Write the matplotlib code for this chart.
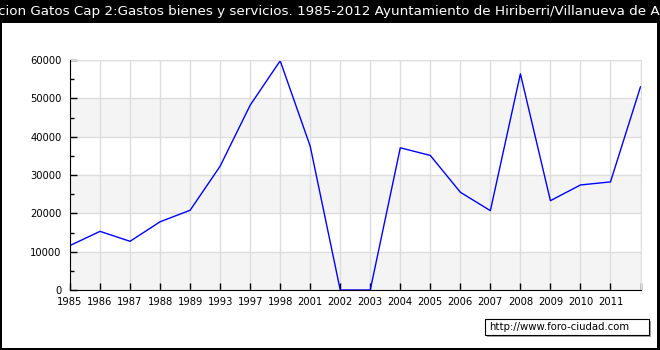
import numpy as np
import matplotlib.pyplot as plt
from matplotlib.patches import Rectangle
from matplotlib.ticker import MultipleLocator

# data
years = ['1985', '1986', '1987', '1988', '1989', '1993', '1997', '1998', '2001', '2002',
         '2003', '2004', '2005', '2006', '2007', '2008', '2009', '2010', '2011', '2012']
gastos = [11600, 15300, 12700, 17800, 20800, 32300, 48200, 59800, 37500, 0,
          0, 37100, 35100, 25500, 20700, 56400, 23300, 27400, 28200, 53000]
tick_labels = years[:-1]   # last point has no label
title = ('Evolucion Gatos Cap 2:Gastos bienes y servicios. 1985-2012 '
         'Ayuntamiento de Hiriberri/Villanueva de Aezkoa')

W, H = 660, 350
fig = plt.figure(figsize=(W/100, H/100), dpi=100, facecolor='black')

# white panel under the title bar
fig.patches.append(Rectangle((2/W, 2/H), 655/W, 325/H, transform=fig.transFigure,
                             facecolor='white', edgecolor='none', zorder=-5))

fig.text(0.5, (H-11)/H, title, color='white', fontsize=9.7, ha='center', va='center',
         family='DejaVu Sans')

ax = fig.add_axes([70/W, 60/H, 570.5/W, 230/H])
ax.set_facecolor('white')
x = np.arange(len(years))

# alternating bands
for lo in (0, 20000, 40000):
    ax.axhspan(lo, lo+10000, color='#f4f4f4', zorder=0, lw=0)

ax.plot(x, gastos, color='#0000ff', lw=1, zorder=2)

ax.set_xlim(0, len(years)-1)
ax.set_ylim(0, 60000)
ax.set_xticks(x)
ax.set_xticklabels(tick_labels + [''])
ax.yaxis.set_major_locator(MultipleLocator(10000))
ax.yaxis.set_minor_locator(MultipleLocator(5000))
ax.grid(True, which='major', color='#dddddd', lw=1, zorder=1)
ax.set_axisbelow(True)

ax.tick_params(axis='both', which='major', direction='in', length=5, width=1,
               labelsize=7.2, colors='black', pad=6)
ax.tick_params(axis='y', which='minor', direction='in', length=3, width=1)
ax.tick_params(axis='x', pad=5)
ax.spines['top'].set_color('#dddddd')
ax.spines['right'].set_color('#dddddd')
for s in ('left', 'bottom'):
    ax.spines[s].set_color('black')
    ax.spines[s].set_zorder(4)

# watermark box with shadow
bx, by, bw, bh = 485, 15, 164, 16
fig.patches.append(Rectangle(((bx+2)/W, (by-2)/H), bw/W, bh/H, transform=fig.transFigure,
                             facecolor='#a8a8a8', edgecolor='none', zorder=5))
fig.patches.append(Rectangle((bx/W, by/H), bw/W, bh/H, transform=fig.transFigure,
                             facecolor='white', edgecolor='black', lw=0.8, zorder=6))
fig.text((bx+4)/W, (by+bh/2)/H, 'http://www.foro-ciudad.com', fontsize=7.3,
         ha='left', va='center', color='black', zorder=7)

fig.savefig('out.png', dpi=100, facecolor=fig.get_facecolor())
